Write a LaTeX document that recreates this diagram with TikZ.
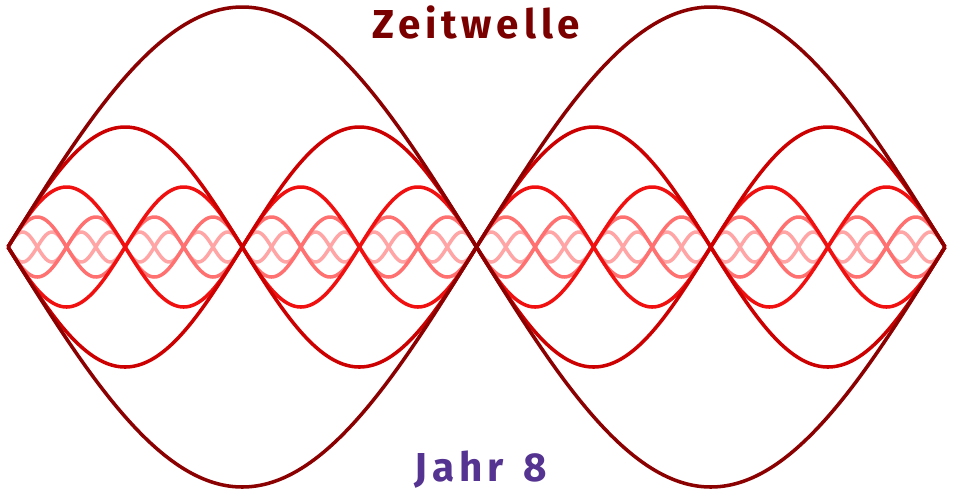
\documentclass[tikz,border=0pt]{standalone}
\usepackage{fontspec}
\newfontfamily\labelfont[LetterSpace=12]{Fira Sans}
\definecolor{wavezero}{RGB}{139,0,0}
\definecolor{waveone}{RGB}{204,0,0}
\definecolor{wavetwo}{RGB}{240,16,16}
\definecolor{wavethree}{RGB}{255,112,112}
\definecolor{wavefour}{RGB}{255,165,165}
\definecolor{titlered}{RGB}{122,0,0}
\definecolor{yearpurple}{RGB}{85,51,145}
\begin{document}
\begin{tikzpicture}[x=0.02cm,y=-0.02cm,
  wave/.style={line width=2pt,line join=round},
  lbl/.style={font=\labelfont\fontsize{23}{26}\selectfont\bfseries,inner sep=0pt}]
  \useasboundingbox (0,0) rectangle (953,491);
  % lighter, shorter waves first, the darkest one on top
  \foreach \k/\col in {4/wavefour,3/wavethree,2/wavetwo,1/waveone,0/wavezero}{
    \pgfmathsetmacro{\amp}{240/2^\k}
    \pgfmathsetmacro{\fac}{180*2^\k/468.5}
    \draw[wave,\col] plot[domain=8:945,samples=701] (\x,{247-\amp*sin(\fac*(\x-8))});
    \draw[wave,\col] plot[domain=8:945,samples=701] (\x,{247+\amp*sin(\fac*(\x-8))});
  }
  \node[lbl,text=titlered] (title) at (476,22) {Zeitwelle};
  \node[lbl,text=yearpurple] (year) at (481,470) {Jahr\hspace{0.15em} 8};
\end{tikzpicture}
\end{document}
